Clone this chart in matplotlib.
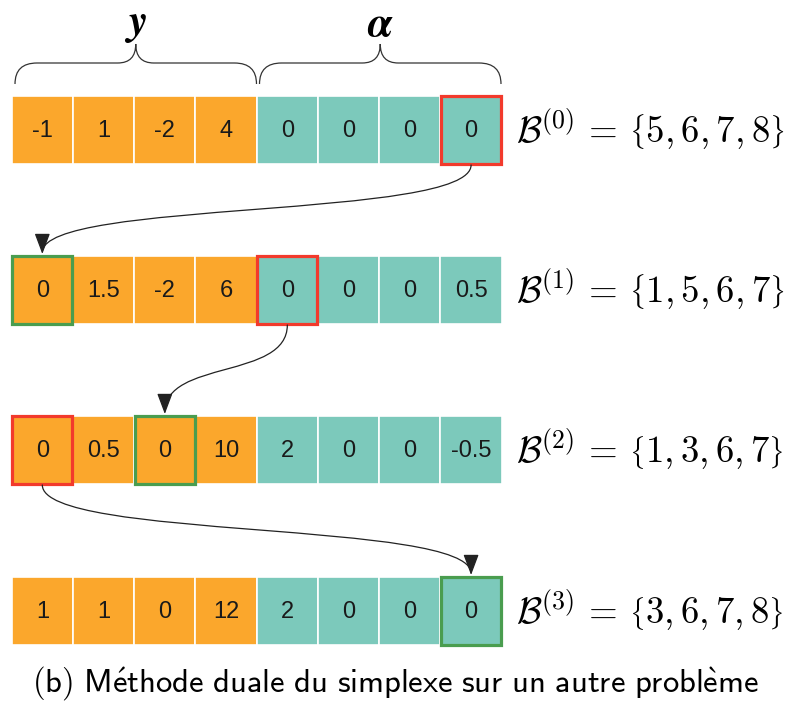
import matplotlib
matplotlib.use("Agg")
import matplotlib.pyplot as plt
from matplotlib.patches import Rectangle, FancyArrowPatch, PathPatch
from matplotlib.path import Path

plt.rcParams['mathtext.fontset'] = 'cm'

# ---- data ----
row_values = [
    [-1, 1, -2, 4, 0, 0, 0, 0],
    [0, 1.5, -2, 6, 0, 0, 0, 0.5],
    [0, 0.5, 0, 10, 2, 0, 0, -0.5],
    [1, 1, 0, 12, 2, 0, 0, 0],
]
bases = [[5, 6, 7, 8], [1, 5, 6, 7], [1, 3, 6, 7], [3, 6, 7, 8]]
leaving = [7, 4, 0, None]      # red boxes
entering = [None, 0, 2, 7]     # green boxes
n_y = 4
group_labels = [r'$\boldsymbol{y}$', r'$\boldsymbol{\alpha}$']
caption = r'$\mathsf{(b)\ M\acute{e}thode\ duale\ du\ simplexe\ sur\ un\ autre\ probl\grave{e}me}$'

# ---- layout (pixel coordinates) ----
W, H = 790, 704
x0, cw = 11.7, 61.25
row_top = [96, 256, 416, 577]
ch = 68
orange, teal = '#FBA72C', '#7CC9BB'
red, green = '#F23A2C', '#4A9D4F'

fig = plt.figure(figsize=(W / 100, H / 100), dpi=100)
ax = fig.add_axes([0, 0, 1, 1])
ax.set_xlim(0, W)
ax.set_ylim(H, 0)
ax.axis('off')

for r, vals in enumerate(row_values):
    top = row_top[r]
    for c, v in enumerate(vals):
        col = orange if c < n_y else teal
        ax.add_patch(Rectangle((x0 + c * cw, top), cw, ch, facecolor=col,
                               edgecolor='white', lw=1.2, zorder=1))
        ax.text(x0 + (c + 0.5) * cw, top + ch / 2 + 1, f"{v:g}", ha='center', va='center',
                fontsize=17, family='Liberation Sans', color='#1a1a1a', zorder=3)
    for idx, ec in ((leaving[r], red), (entering[r], green)):
        if idx is not None:
            ax.add_patch(Rectangle((x0 + idx * cw + 0.5, top), cw - 1, ch, facecolor='none',
                                   edgecolor=ec, lw=2.3, zorder=4))
    ax.text(516, top + ch / 2 - 1,
            r'$\mathcal{B}^{(%d)}\,=\,\left\{%s\right\}$' % (r, ','.join(str(b) for b in bases[r])),
            ha='left', va='center', fontsize=26.5, zorder=3)

# arrows between rows
for r in range(3):
    xs = x0 + (leaving[r] + 0.5) * cw
    ys = row_top[r] + ch + 1
    xe = x0 + (entering[r + 1] + 0.5) * cw
    ye = row_top[r + 1] - 2
    mid = (ys + ye) / 2
    path = Path([(xs, ys), (xs, mid + 10), (xe, mid - 10), (xe, ye)],
                [Path.MOVETO, Path.CURVE4, Path.CURVE4, Path.CURVE4])
    ax.add_patch(FancyArrowPatch(path=path, arrowstyle='-|>,head_length=0.8,head_width=0.3',
                                 mutation_scale=16, color='#222222', lw=0.9, zorder=5))

# braces
def brace(xa, xb, yb=84, ym=63, yt=44, rx=22, rx2=18):
    m = (xa + xb) / 2
    verts = [(xa, yb), (xa, ym), (xa + rx, ym), (m - rx2, ym), (m, ym), (m, yt),
             (m, ym), (m + rx2, ym), (xb - rx, ym), (xb, ym), (xb, yb)]
    codes = [Path.MOVETO, Path.CURVE3, Path.CURVE3, Path.LINETO, Path.CURVE3, Path.CURVE3,
             Path.CURVE3, Path.CURVE3, Path.LINETO, Path.CURVE3, Path.CURVE3]
    ax.add_patch(PathPatch(Path(verts, codes), facecolor='none', edgecolor='#333333', lw=0.9))
    return m

for g, (xa, xb) in enumerate([(15, 256.5), (259.5, 501)]):
    m = brace(xa, xb)
    ax.text(m, 24, group_labels[g], ha='center', va='center', fontsize=31)

ax.text(395, 683, caption, ha='center', va='center', fontsize=23.5)

fig.savefig('out.png', dpi=100)
